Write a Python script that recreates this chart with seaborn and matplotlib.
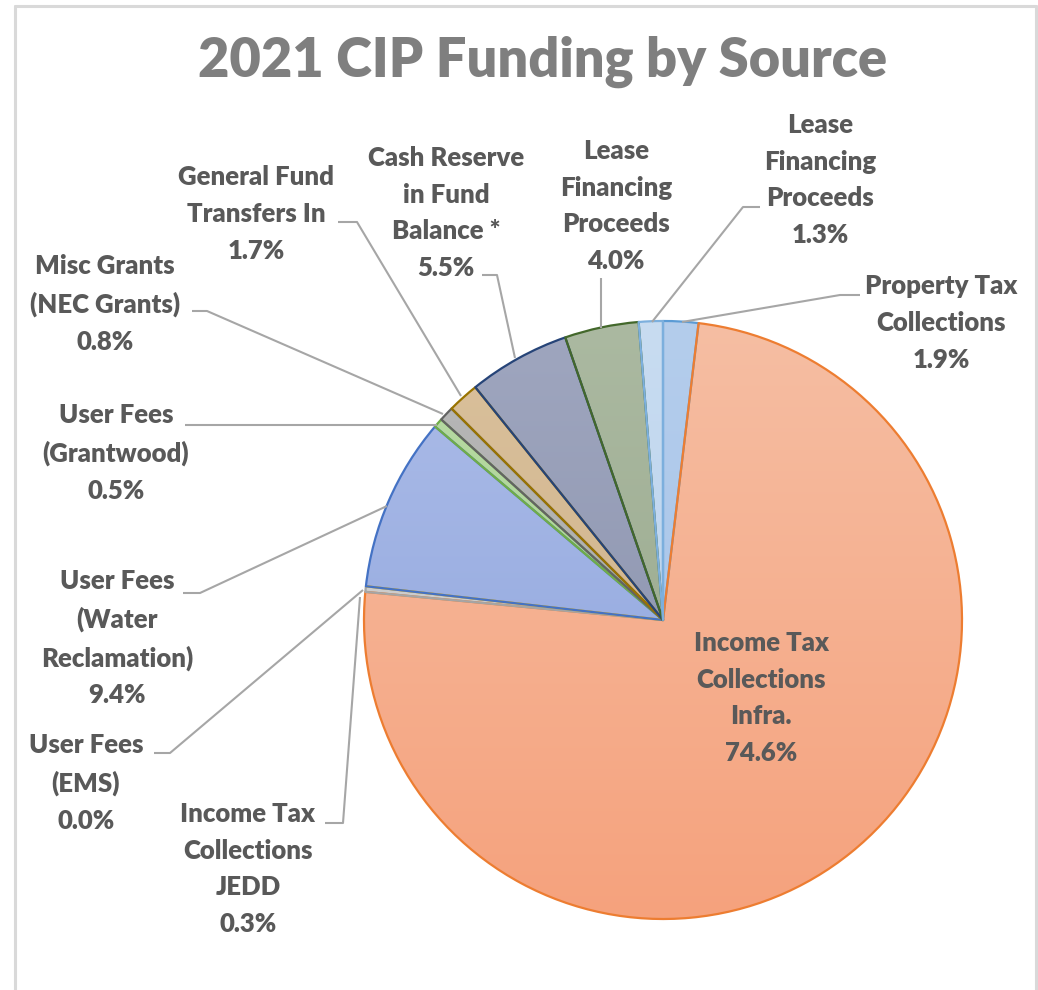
import numpy as np
import matplotlib
matplotlib.use("Agg")
import matplotlib.pyplot as plt
from matplotlib.lines import Line2D
import seaborn as sns

# data, clockwise from 12 o'clock
sources = [
    "Property Tax\nCollections",
    "Income Tax\nCollections\nInfra.",
    "Income Tax\nCollections\nJEDD",
    "User Fees\n(EMS)",
    "User Fees\n(Water\nReclamation)",
    "User Fees\n(Grantwood)",
    "Misc Grants\n(NEC Grants)",
    "General Fund\nTransfers In",
    "Cash Reserve\nin Fund\nBalance *",
    "Lease\nFinancing\nProceeds",
    "Lease\nFinancing\nProceeds",
]
shares = [1.9, 74.6, 0.3, 0.0, 9.4, 0.5, 0.8, 1.7, 5.5, 4.0, 1.3]

# styles: gradient top colour, bottom colour, outline
fill_top = ["#b4cdec", "#f6bea3", "#d4d4d4", "#ffd966", "#aebde8", "#b8dba5",
            "#b8b8b8", "#dac19c", "#9fa6bf", "#abb9a1", "#c8dcf1"]
fill_bot = ["#a4c2e8", "#f5a27d", "#c4c4c4", "#ffd966", "#88a1dc", "#a6cf8b",
            "#a6a6a6", "#ccae86", "#878fa9", "#95a689", "#b6cfeb"]
edges = ["#5b9bd5", "#ed7d31", "#a5a5a5", "#ffc000", "#4472c4", "#70ad47",
         "#636363", "#997300", "#264478", "#43682b", "#7cafdd"]

W, H = 1038, 990


def P(x, y):
    # reference pixel -> data coords
    return x, H - y


# label centres and leader lines (reference pixels)
label_pos = [(941, 323), (761, 698), (248, 869), (86, 783), (117, 638), (116, 453),
             (105, 304), (256, 214), (446, 213), (616, 206), (820, 180)]
leaders = [
    [(682, 322), (840, 295), (860, 295)],
    None,
    [(360, 597), (343, 823), (325, 823)],
    [(363, 590), (170, 753), (154, 753)],
    [(387, 506), (200, 593), (183, 593)],
    [(437, 425), (185, 425)],
    [(443, 414), (207, 311), (192, 311)],
    [(461, 396), (357, 222), (338, 222)],
    [(515, 358), (497, 275), (482, 275)],
    [(601, 328), (601, 278)],
    [(652, 322), (743, 207), (760, 207)],
]

sns.set_theme(style="white")
plt.rcParams['font.family'] = ['Lato', 'DejaVu Sans']

fig = plt.figure(figsize=(W / 100, H / 100), dpi=100)
ax = fig.add_axes([0, 0, 1, 1])

cx, cy = P(663, 620)
r = 299
wedges, _ = ax.pie(shares, startangle=90, counterclock=False, center=(cx, cy),
                   radius=r, wedgeprops=dict(linewidth=1.6, joinstyle="round"))

grad = np.linspace(0, 1, 256).reshape(-1, 1)
for i, w in enumerate(wedges):
    cmap = sns.blend_palette([fill_top[i], fill_bot[i]], n_colors=256, as_cmap=True)
    im = ax.imshow(grad, cmap=cmap, extent=(cx - r, cx + r, cy - r, cy + r),
                   origin="upper", aspect="auto", zorder=1)
    im.set_clip_path(w)
    w.set_facecolor("none")
    w.set_edgecolor(edges[i])
    w.set_zorder(2 + i * 0.01)

# leader lines
for pts in leaders:
    if pts is None:
        continue
    xs = [P(*p)[0] for p in pts]
    ys = [P(*p)[1] for p in pts]
    ax.plot(xs, ys, color="#a6a6a6", lw=1.5, zorder=3, solid_capstyle="butt")

# data labels
for name, val, pos in zip(sources, shares, label_pos):
    ax.text(*P(*pos), f"{name}\n{val:.1f}%", ha="center", va="center",
            multialignment="center", fontsize=18.5, fontweight="heavy",
            color="#595959", linespacing=1.64, zorder=4)

ax.text(*P(543, 62), "2021 CIP Funding by Source", ha="center", va="center",
        fontsize=39, fontweight="heavy", color="#7f7f7f")

ax.set_xlim(0, W)
ax.set_ylim(0, H)
ax.set_aspect("auto")
ax.axis("off")

# chart frame
fcol = "#d9d9d9"
fig.add_artist(Line2D([15 / W, 15 / W], [0, 1 - 6 / H], color=fcol, lw=2.2))
fig.add_artist(Line2D([1036 / W, 1036 / W], [0, 1 - 6 / H], color=fcol, lw=2.2))
fig.add_artist(Line2D([15 / W, 1036 / W], [1 - 6 / H, 1 - 6 / H], color=fcol, lw=2.2))

fig.savefig("out.png", dpi=100, facecolor="white")
